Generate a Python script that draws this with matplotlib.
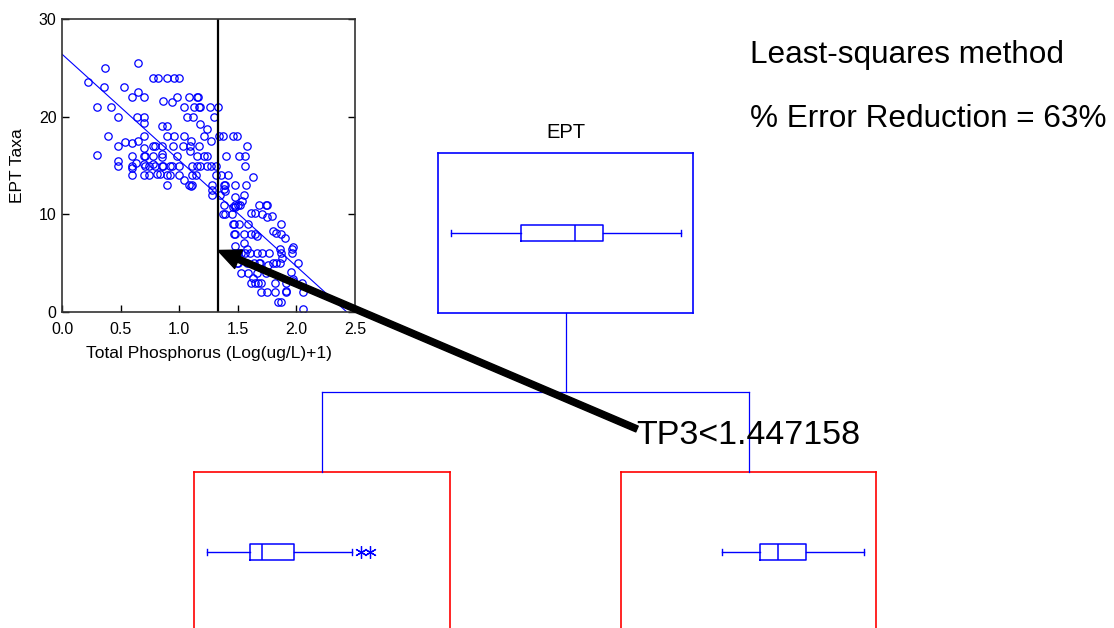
import matplotlib.pyplot as plt

plt.rcParams["font.family"] = ["Liberation Sans", "DejaVu Sans"]

BLUE = "#0000ff"
RED = "#ff0000"

# scatter data: total phosphorus (log) vs EPT taxa
tp = [0.65, 0.37, 0.22, 0.36, 0.53, 0.65, 0.60, 0.70,
      0.78, 0.82, 0.90, 0.955, 1.00,
      0.86, 0.94, 0.98, 1.08, 1.15, 1.16,
      1.04, 1.13, 1.17, 1.18, 1.26, 1.33,
      1.07, 1.12, 1.30, 1.18, 1.24,
      0.30, 0.42, 0.48, 0.64, 0.70, 0.70, 0.85, 0.90,
      0.39, 0.70, 0.90, 0.955, 1.04, 1.21, 1.34, 1.37, 1.46, 1.49,
      1.58, 0.54, 0.60, 0.65, 0.48, 0.70, 0.78, 0.79, 0.85, 0.95, 1.03, 1.09, 1.09, 1.17, 1.27, 1.10,
      0.30, 0.60, 0.70, 0.71, 0.78, 0.85, 0.85, 0.98, 1.15, 1.21, 1.24, 1.40, 1.51, 1.56,
      0.48, 0.48, 0.60, 0.60, 0.63, 0.70, 0.71, 0.74, 0.78, 0.79, 0.85, 0.86, 0.92, 0.94, 1.00,
      1.11, 1.15, 1.18, 1.24, 1.27, 1.31, 1.56,
      0.60, 0.70, 0.74, 0.81, 0.84, 0.90, 0.92, 1.00, 1.04, 1.11, 1.14, 1.31, 1.36, 1.42,
      0.90, 1.08, 1.10, 1.11, 1.28, 1.28, 1.28, 1.38, 1.39, 1.48, 1.57, 1.63,
      1.38, 1.39, 1.35, 1.55, 1.48, 1.54, 1.48, 1.50, 1.52, 1.46, 1.48, 1.38,
      1.37, 1.39, 1.45, 1.61, 1.65, 1.68, 1.74, 1.75, 1.71, 1.75, 1.79,
      1.46, 1.47, 1.51, 1.59, 1.87,
      1.47, 1.48, 1.55, 1.61, 1.65, 1.66, 1.80, 1.83, 1.87, 1.90,
      1.48, 1.55, 1.58, 1.47, 1.50, 1.53, 1.56, 1.60, 1.66, 1.71, 1.86, 1.87, 1.88, 1.96, 1.97, 1.96, 1.77,
      1.49, 1.50, 1.58, 1.64, 1.68, 1.69, 1.76, 1.80, 1.83, 1.86, 2.01,
      1.53, 1.59, 1.66, 1.74, 1.95, 1.97,
      1.61, 1.65, 1.67, 1.70, 1.63, 1.82, 1.91, 1.97, 2.05,
      1.70, 1.75, 1.82, 1.91, 1.91, 2.06,
      1.84, 1.87, 2.06]
ept = [25.5, 25.0, 23.6, 23.0, 23.0, 22.5, 22.0, 22.0,
       24, 24, 24, 24, 24,
       21.6, 21.5, 22.0, 22, 22, 22,
       21, 21, 21, 21, 21, 21,
       20, 20, 20, 19.2, 18.7,
       21, 21, 20, 20, 20, 19.4, 19, 19,
       18, 18, 18, 18, 18, 18, 18, 18, 18, 18,
       17, 17.4, 17.3, 17.5, 17, 16.8, 17, 17, 17, 17, 17, 17, 16.5, 17, 17.5, 17.5,
       16.1, 16, 16, 16, 16, 16.2, 15.9, 16, 16, 16, 16, 16, 16, 16,
       15.5, 15, 15, 14.7, 15.3, 15.2, 15, 15, 15.2, 15, 15, 15, 15, 14.9, 15,
       15, 15, 15, 15, 15, 15, 15,
       14, 14, 14, 14.1, 14.1, 14, 14, 14, 13.5, 14, 14, 14, 14, 14,
       13, 13, 12.9, 13, 13, 12.5, 12.0, 13, 13, 13, 13, 13.8,
       12.6, 12.4, 12.0, 12, 11.8, 11.4, 11, 11, 11, 10.7, 10.7, 11,
       10, 10, 10, 10.1, 10.1, 11, 11, 11, 10, 9.7, 9.8,
       9, 9, 9, 9, 9,
       8, 8, 8, 8, 8, 7.8, 8.3, 8.1, 8.0, 7.6,
       6.8, 7.1, 6.5, 6, 6, 6, 6, 6, 6, 6, 6.5, 6, 5.5, 6.5, 6.7, 6, 6,
       5, 5, 5, 5, 5, 5, 4.8, 5, 5, 5, 5,
       4, 4, 4, 4, 4.1, 3.4,
       3, 3, 3, 3, 3.5, 3, 3, 3.2, 3,
       2, 2, 2, 2.2, 2, 2,
       1, 1, 0.3]

# least-squares line and split line
fit_tp = [0.0, 2.43]
fit_ept = [26.4, 0.0]
split_tp = 1.33
arrow_ept = 6.3
split_label = "TP3<1.447158"

# node box plots (EPT taxa)
node_names = ["root", "left", "right"]
node_whislo = [0.0, 0.0, 9.8]
node_q1 = [7.8, 4.7, 14.0]
node_med = [13.7, 6.1, 16.0]
node_q3 = [16.9, 9.6, 19.1]
node_whishi = [25.5, 16.0, 25.5]
node_fliers = [[], [17.0, 18.0], []]

W, H = 1114, 628
fig = plt.figure(figsize=(W / 100, H / 100), dpi=100)


def px_rect(l, t, r, b):
    return [l / W, 1 - b / H, (r - l) / W, (b - t) / H]


# scatter panel
ax = fig.add_axes(px_rect(62, 19, 355, 312))
ax.plot(tp, ept, "o", ms=5.3, mfc="none", mec=BLUE, mew=0.9)
ax.plot(fit_tp, fit_ept, color=BLUE, lw=0.8)
ax.axvline(split_tp, color="black", lw=1.6)
ax.set_xlim(0, 2.5)
ax.set_ylim(0, 30)
ax.set_xticks([0, 0.5, 1.0, 1.5, 2.0, 2.5])
ax.set_xticklabels(["0.0", "0.5", "1.0", "1.5", "2.0", "2.5"])
ax.set_yticks([0, 10, 20, 30])
ax.tick_params(direction="in", length=5, width=1, labelsize=11.5, right=True)
ax.tick_params(axis="x", pad=7)
ax.tick_params(axis="y", pad=4)
for s in ax.spines.values():
    s.set_linewidth(1.2)
    s.set_color("#333333")
ax.set_xlabel("Total Phosphorus (Log(ug/L)+1)", fontsize=12.5, labelpad=7)
ax.set_ylabel("EPT Taxa", fontsize=12.5, labelpad=10)

# tree nodes
node_rects = {"root": (438, 153, 693, 313),
              "left": (194, 472, 450, 632),
              "right": (621, 472, 876, 632)}
node_colors = {"root": BLUE, "left": RED, "right": RED}

for i, name in enumerate(node_names):
    nax = fig.add_axes(px_rect(*node_rects[name]))
    stats = [dict(whislo=node_whislo[i], q1=node_q1[i], med=node_med[i],
                  q3=node_q3[i], whishi=node_whishi[i], fliers=node_fliers[i])]
    nax.bxp(stats, positions=[0.5], widths=0.1, capwidths=0.035,
            orientation="horizontal", showfliers=True,
            boxprops=dict(color=BLUE, lw=1.1),
            medianprops=dict(color=BLUE, lw=1.1),
            whiskerprops=dict(color=BLUE, lw=1.0),
            capprops=dict(color=BLUE, lw=1.0),
            flierprops=dict(marker=(6, 2, 0), ms=9, mec=BLUE, mfc="none", mew=0.9))
    nax.set_xlim(-1.44, 26.83)
    nax.set_ylim(0, 1)
    nax.set_xticks([])
    nax.set_yticks([])
    for s in nax.spines.values():
        s.set_color(node_colors[name])
        s.set_linewidth(1.2)

# overlay for connectors, labels and arrow
ov = fig.add_axes([0, 0, 1, 1])
ov.set_xlim(0, W)
ov.set_ylim(H, 0)
ov.axis("off")
ov.set_zorder(10)

rl, rt, rr, rb = node_rects["root"]
cx_root = (rl + rr) / 2
cx_left = (node_rects["left"][0] + node_rects["left"][2]) / 2
cx_right = (node_rects["right"][0] + node_rects["right"][2]) / 2
child_top = node_rects["left"][1]
bar_y = 392
ov.plot([cx_root, cx_root], [rb, bar_y], color=BLUE, lw=0.9)
ov.plot([cx_left, cx_right], [bar_y, bar_y], color=BLUE, lw=0.9)
ov.plot([cx_left, cx_left], [bar_y, child_top], color=BLUE, lw=0.9)
ov.plot([cx_right, cx_right], [bar_y, child_top], color=BLUE, lw=0.9)

ov.text(cx_root, 138, "EPT", fontsize=14.5, ha="center", va="baseline")
ov.text(750, 63, "Least-squares method", fontsize=22.7, ha="left", va="baseline")
ov.text(750, 127, "% Error Reduction = 63%", fontsize=22.7, ha="left", va="baseline")
ov.text(636, 444, split_label, fontsize=24.5, ha="left", va="baseline")

ov.annotate("", xy=(split_tp, arrow_ept), xycoords=ax.transData,
            xytext=(637, 429), textcoords="data",
            arrowprops=dict(arrowstyle="simple,head_length=0.9,head_width=0.8,tail_width=0.25",
                            mutation_scale=18, color="black", shrinkA=0, shrinkB=0))

fig.savefig("out.png", dpi=100)
